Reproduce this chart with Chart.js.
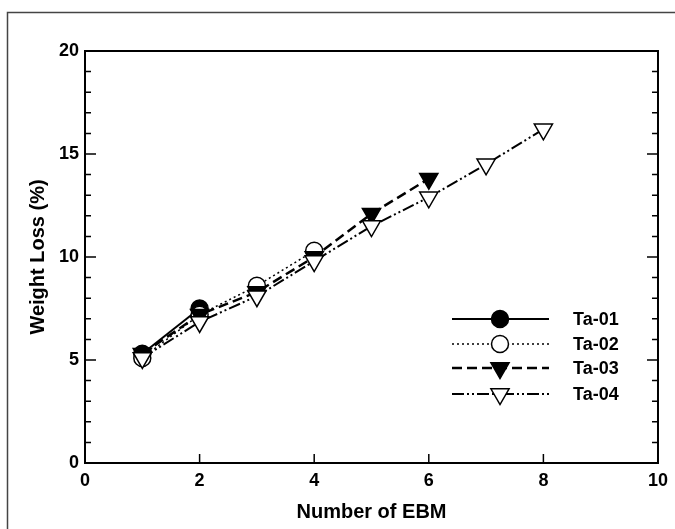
<!DOCTYPE html>
<html>
<head>
<meta charset="utf-8">
<script src="https://cdn.jsdelivr.net/npm/chart.js"></script>
<style>
html, body { margin: 0; padding: 0; background: #fff; }
#wrap { width: 675px; height: 529px; }
</style>
</head>
<body>
<div id="wrap"><canvas id="ebm"></canvas></div>
<script>
// values
var ta01 = [[1, 5.3], [2, 7.5]];
var ta02 = [[1, 5.1], [2, 7.2], [3, 8.6], [4, 10.3]];
var ta03 = [[1, 5.3], [2, 7.2], [3, 8.3], [4, 10.0], [5, 12.1], [6, 13.8]];
var ta04 = [[1, 5.1], [2, 6.85], [3, 8.1], [4, 9.8], [5, 11.5], [6, 12.9], [7, 14.5], [8, 16.2]];
var names = ["Ta-01", "Ta-02", "Ta-03", "Ta-04"];
var xTicks = [0, 2, 4, 6, 8, 10];
var yTicks = [0, 5, 10, 15, 20];

function pts(arr) {
	var out = [];
	for (let i = 0; i < arr.length; i++) {
		out.push({x: arr[i][0], y: arr[i][1]});
	}
	return out;
}

var FONT = "'Liberation Sans', Arial, sans-serif";

// marker drawing, shared by legend
function marker(ctx, ds, x, y) {
	var r = ds.pointRadius;
	ctx.save();
	ctx.setLineDash([]);
	ctx.lineWidth = 1.5;
	ctx.strokeStyle = '#000';
	ctx.fillStyle = ds.pointBackgroundColor;
	ctx.beginPath();
	if (ds.pointStyle === 'circle') {
		ctx.arc(x, y, r, 0, Math.PI * 2);
	} else {
		var h = r * 0.5;
		ctx.moveTo(x - r * 0.866, y - h);
		ctx.lineTo(x + r * 0.866, y - h);
		ctx.lineTo(x, y + r);
		ctx.closePath();
	}
	ctx.fill();
	ctx.stroke();
	ctx.restore();
}

var framePlugin = {
	id: 'frame',
	afterDraw: function(chart) {
		var ctx = chart.ctx, a = chart.chartArea;
		var xs = chart.scales.x, ys = chart.scales.y;
		ctx.save();
		// outer border of the figure
		ctx.strokeStyle = '#444';
		ctx.lineWidth = 1.5;
		ctx.strokeRect(7.5, 12.5, 720, 560);
		// plot frame
		ctx.strokeStyle = '#000';
		ctx.lineWidth = 2;
		ctx.strokeRect(a.left, a.top, a.right - a.left, a.bottom - a.top);
		// y ticks, both sides, pointing in
		ctx.lineWidth = 1.5;
		for (let v = 1; v < 20; v++) {
			var py = ys.getPixelForValue(v);
			var len = (v % 5 === 0) ? 11 : 6;
			ctx.beginPath();
			ctx.moveTo(a.left, py); ctx.lineTo(a.left + len, py);
			ctx.moveTo(a.right, py); ctx.lineTo(a.right - len, py);
			ctx.stroke();
		}
		// x ticks on the bottom
		for (let v = 2; v < 10; v += 2) {
			var px = xs.getPixelForValue(v);
			ctx.beginPath();
			ctx.moveTo(px, a.bottom); ctx.lineTo(px, a.bottom - 9);
			ctx.stroke();
		}
		// legend inside the plot
		var rows = [319, 344, 368, 394];
		chart.data.datasets.forEach(function(ds, i) {
			var y = rows[i];
			ctx.save();
			ctx.strokeStyle = '#000';
			ctx.lineWidth = ds.borderWidth;
			ctx.setLineDash(ds.borderDash || []);
			ctx.beginPath();
			ctx.moveTo(452, y); ctx.lineTo(549, y);
			ctx.stroke();
			ctx.restore();
			marker(ctx, ds, 500, y);
			ctx.fillStyle = '#000';
			ctx.font = 'bold 18px ' + FONT;
			ctx.textBaseline = 'middle';
			ctx.textAlign = 'left';
			ctx.fillText(ds.label, 573, y + 1);
		});
		ctx.restore();
	}
};

var ctx = document.getElementById('ebm').getContext('2d');
var chart = new Chart(ctx, {
	type: 'line',
	data: {
		datasets: [{
			label: names[0],
			data: pts(ta01),
			order: 4,
			borderColor: '#000', borderWidth: 2,
			pointStyle: 'circle', pointRadius: 8.5,
			pointBackgroundColor: '#000', pointBorderColor: '#000', pointBorderWidth: 1.5
		}, {
			label: names[1],
			data: pts(ta02),
			order: 3,
			borderColor: '#000', borderWidth: 1.5, borderDash: [2, 3],
			pointStyle: 'circle', pointRadius: 8.5,
			pointBackgroundColor: '#fff', pointBorderColor: '#000', pointBorderWidth: 1.5
		}, {
			label: names[2],
			data: pts(ta03),
			order: 2,
			borderColor: '#000', borderWidth: 2.5, borderDash: [10, 5],
			pointStyle: 'triangle', pointRotation: 180, pointRadius: 10.5,
			pointBackgroundColor: '#000', pointBorderColor: '#000', pointBorderWidth: 1.5
		}, {
			label: names[3],
			data: pts(ta04),
			order: 1,
			borderColor: '#000', borderWidth: 2, borderDash: [12, 3, 2, 3, 2, 3],
			pointStyle: 'triangle', pointRotation: 180, pointRadius: 10.5,
			pointBackgroundColor: '#fff', pointBorderColor: '#000', pointBorderWidth: 1.5
		}]
	},
	options: {
		responsive: true,
		maintainAspectRatio: false,
		animation: false,
		layout: { padding: { left: 0, top: 51, right: 15, bottom: 0 } },
		plugins: { legend: { display: false }, tooltip: { enabled: false } },
		scales: {
			x: {
				type: 'linear', min: 0, max: 10,
				afterBuildTicks: function(s) { s.ticks = xTicks.map(function(v) { return {value: v}; }); },
				afterFit: function(s) { s.height = 66; },
				grid: { display: false, drawTicks: false },
				border: { display: false },
				ticks: { color: '#000', padding: 7, font: { family: FONT, size: 18, weight: 'bold' } },
				title: { display: true, text: 'Number of EBM', color: '#000', padding: { top: 0, bottom: 5 },
					font: { family: FONT, size: 20, weight: 'bold' } }
			},
			y: {
				type: 'linear', min: 0, max: 20,
				afterBuildTicks: function(s) { s.ticks = yTicks.map(function(v) { return {value: v}; }); },
				afterFit: function(s) { s.width = 85; },
				grid: { display: false, drawTicks: false },
				border: { display: false },
				ticks: { color: '#000', padding: 6, font: { family: FONT, size: 18, weight: 'bold' } },
				title: { display: true, text: 'Weight Loss (%)', color: '#000', padding: { top: 26, bottom: 0 },
					font: { family: FONT, size: 20, weight: 'bold' } }
			}
		}
	},
	plugins: [framePlugin]
});
</script>
</body>
</html>
